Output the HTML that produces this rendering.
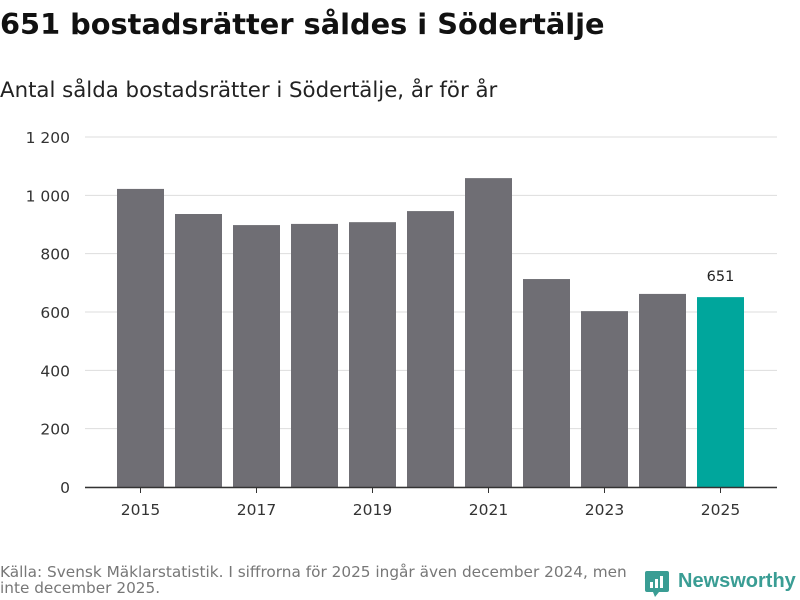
<!DOCTYPE html>
<html><head><meta charset="utf-8"><style>
body{margin:0;width:800px;height:600px;background:#fff;font-family:"DejaVu Sans",sans-serif;overflow:hidden;position:relative}
.t{position:absolute;white-space:nowrap}
</style></head><body>
<div class="t" style="left:0;top:7px;font-size:28.8px;font-weight:bold;color:#111">651 bostadsrätter såldes i Södertälje</div>
<div class="t" style="left:0;top:78px;font-size:21.3px;color:#222">Antal sålda bostadsrätter i Södertälje, år för år</div>
<svg id="c" width="800" height="600" style="position:absolute;left:0;top:0"></svg>
<div class="t" style="left:0;top:564px;font-size:15.3px;line-height:16px;color:#777">Källa: Svensk Mäklarstatistik. I siffrorna för 2025 ingår även december 2024, men<br>inte december 2025.</div>
<svg style="position:absolute;left:645px;top:571px" width="24" height="26"><path d="M2 0h20a2 2 0 0 1 2 2v17a2 2 0 0 1-2 2h-8l-4 5-2-5H2a2 2 0 0 1-2-2V2a2 2 0 0 1 2-2z" fill="#3a9d94"/><rect x="5" y="11" width="3" height="6" fill="#fff"/><rect x="10" y="8" width="3" height="9" fill="#fff"/><rect x="15" y="5" width="3" height="12" fill="#fff"/></svg>
<div class="t" style="left:678px;top:570px;font-size:20px;font-weight:bold;color:#3a9d94;font-family:'Liberation Sans',sans-serif">Newsworthy</div>
<script>
const years=[2015,2016,2017,2018,2019,2020,2021,2022,2023,2024,2025];
const values=[1022,936,898,902,908,946,1059,713,603,662,651];
const yTicks=[0,200,400,600,800,1000,1200];
const yTickLabels=["0","200","400","600","800","1 000","1 200"];
const xTickYears=[2015,2017,2019,2021,2023,2025];
const svg=document.getElementById('c');const NS='http://www.w3.org/2000/svg';
const y0=487,y1=137,ymax=1200;const y=v=>y0-(v/ymax)*(y0-y1);
const step=58,x0=140.5;const x=i=>x0+i*step;const bw=47;
const FF='DejaVu Sans, sans-serif';
function mk(t,a,txt){const e=document.createElementNS(NS,t);for(const k in a)e.setAttribute(k,a[k]);if(txt!=null)e.textContent=txt;svg.appendChild(e);return e;}
yTicks.forEach((v,i)=>{
 const l=mk('line',{x1:85,x2:777,y1:y(v),y2:y(v),stroke:'#ddd','stroke-width':1});
 
 
 const t=mk('text',{x:70,y:y(v)+6,'text-anchor':'end','font-size':15.5,fill:'#333','font-family':FF},yTickLabels[i]);
 
 
});
values.forEach((v,i)=>{
 const last=i===values.length-1;
 const r=mk('rect',{x:x(i)-bw/2,y:y(v),width:bw,height:y0-y(v),fill:last?'#00a69c':'#6f6e74'});
 
 
 if(last){const t=mk('text',{x:x(i),y:y(v)-16,'text-anchor':'middle','font-size':14.5,fill:'#222','font-family':FF},String(v));
 
 }
});
const ax=mk('line',{x1:85,x2:777,y1:y0+0.5,y2:y0+0.5,stroke:'#333','stroke-width':1.5});


xTickYears.forEach(yr=>{const i=years.indexOf(yr);
 const tk=mk('line',{x1:x(i),x2:x(i),y1:y0,y2:y0+6,stroke:'#333'});
 
 
 const t=mk('text',{x:x(i),y:515,'text-anchor':'middle','font-size':15.5,fill:'#333','font-family':FF},String(yr));
 
 
});
</script>
</body></html>
